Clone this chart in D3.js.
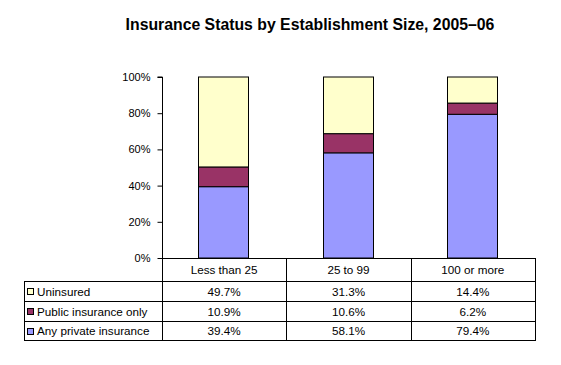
<!DOCTYPE html>
<html><head><meta charset="utf-8">
<script src="https://cdn.jsdelivr.net/npm/d3@7"></script>
<style>body{margin:0;background:#fff;} svg{display:block;} text{font-family:"Liberation Sans",Arial,sans-serif;}</style>
</head><body>
<svg id="c" width="561" height="365"></svg>
<script>
const categories = ["Less than 25", "25 to 99", "100 or more"];
const seriesNames = ["Any private insurance", "Public insurance only", "Uninsured"];
const privateIns = [39.4, 58.1, 79.4];
const publicIns = [10.9, 10.6, 6.2];
const uninsured = [49.7, 31.3, 14.4];
const yTicks = [0, 20, 40, 60, 80, 100];
const colors = ["#9999FF", "#993366", "#FFFFCC"];

(function () {
const svg = d3.select("#c");
const pLeft = 162, pRight = 535, pTop = 77, pBottom = 258;
const fs = 11.7;
const x = d3.scaleBand().domain(categories).range([pLeft, pRight]).paddingInner(0).paddingOuter(0);
const y = d3.scaleLinear().domain([0, 100]).range([pBottom, pTop]);

svg.append("text").attr("x", 310).attr("y", 30).attr("text-anchor", "middle")
  .attr("font-size", 15.8).attr("font-weight", "bold").text("Insurance Status by Establishment Size, 2005\u201306");

const seriesVals = [privateIns, publicIns, uninsured];
const rows = categories.map((c, i) => {
  const o = {cat: c};
  seriesNames.forEach((s, j) => o[s] = seriesVals[j][i]);
  return o;
});
const stack = d3.stack().keys(seriesNames)(rows);
const bw = 50;
stack.forEach((layer, j) => {
  svg.append("g").selectAll("rect").data(layer).join("rect")
    .attr("x", d => Math.round(x(d.data.cat) + x.bandwidth()/2 - bw/2) - 0.5)
    .attr("width", bw)
    .attr("y", d => y(d[1]))
    .attr("height", d => y(d[0]) - y(d[1]))
    .attr("fill", colors[j]).attr("stroke", "#000").attr("stroke-width", 1);
});

const yAxis = d3.axisLeft(y).tickValues(yTicks).tickFormat(d => d + "%").tickSize(5).tickPadding(7);
const ga = svg.append("g").attr("transform", `translate(${pLeft + 0.5},0)`).call(yAxis);
ga.select(".domain").attr("stroke", "#000").attr("d", `M-5,${pTop}H0V${pBottom}`);
ga.selectAll(".tick line").attr("stroke", "#000");
ga.selectAll("text").attr("font-size", 11).attr("fill", "#000").attr("font-family", '"Liberation Sans",Arial,sans-serif');

// table
const rowY = [258, 281, 301, 321, 340];
const tableLeft = 24;
const g = svg.append("g").attr("stroke", "#000").attr("stroke-width", 1).attr("fill", "none");
g.append("line").attr("x1", pLeft).attr("x2", pRight).attr("y1", rowY[0]+0.5).attr("y2", rowY[0]+0.5);
for (let k = 1; k < rowY.length; k++) {
  g.append("line").attr("x1", tableLeft).attr("x2", pRight + 1).attr("y1", rowY[k]+0.5).attr("y2", rowY[k]+0.5);
}
g.append("line").attr("x1", tableLeft+0.5).attr("x2", tableLeft+0.5).attr("y1", rowY[1]).attr("y2", rowY[4]+1);
categories.forEach(c => {
  const xx = Math.round(x(c)) + 0.5;
  g.append("line").attr("x1", xx).attr("x2", xx).attr("y1", rowY[0]).attr("y2", rowY[4]+1);
});
g.append("line").attr("x1", pRight+0.5).attr("x2", pRight+0.5).attr("y1", rowY[0]).attr("y2", rowY[4]+1);

svg.append("g").selectAll("text").data(categories).join("text")
  .attr("x", d => x(d) + x.bandwidth()/2).attr("y", (rowY[0]+rowY[1])/2 + 4.5)
  .attr("text-anchor", "middle").attr("font-size", fs).text(d => d);

const tableOrder = [2, 1, 0];
tableOrder.forEach((sj, r) => {
  const y0 = rowY[r+1], y1 = rowY[r+2];
  const cy = (y0 + y1)/2 + 0.5;
  svg.append("rect").attr("x", 27.5).attr("y", Math.round(cy - 3.5) + 0.5).attr("width", 6).attr("height", 6)
    .attr("fill", colors[sj]).attr("stroke", "#000").attr("stroke-width", 1);
  svg.append("text").attr("x", 37).attr("y", cy + 4).attr("font-size", fs).text(seriesNames[sj]);
  svg.append("g").selectAll("text").data(categories).join("text")
    .attr("x", d => x(d) + x.bandwidth()/2).attr("y", cy + 4)
    .attr("text-anchor", "middle").attr("font-size", fs)
    .text((d, i) => seriesVals[sj][i].toFixed(1) + "%");
});
})();
</script>
</body></html>
